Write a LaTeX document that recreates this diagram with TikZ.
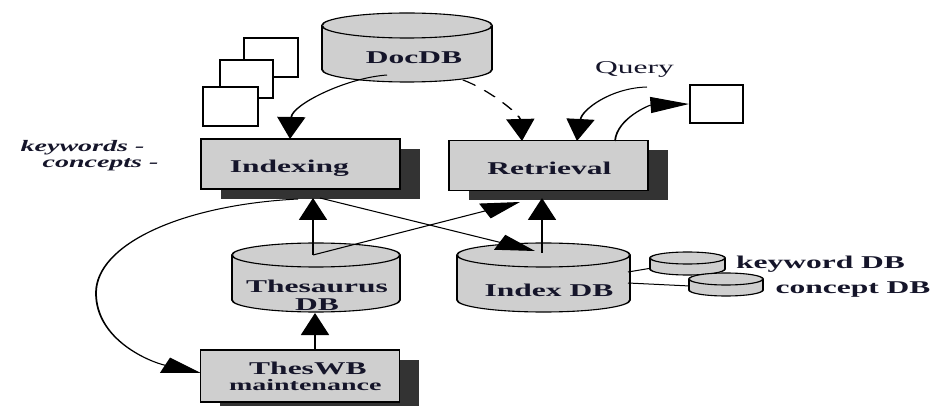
\documentclass[tikz,border=0pt]{standalone}
\usepackage{fontspec}
\setmainfont{Liberation Serif}
\usetikzlibrary{arrows.meta,shadows}
\definecolor{boxgray}{HTML}{CFCFCF}
\definecolor{shadowgray}{HTML}{333333}
\definecolor{txt}{HTML}{15152A}
\newcommand\cylshape[5]{%
 \filldraw[cyl] ({#1-#4},{#2+#5}) -- ({#1-#4},{#3-#5})
   .. controls ({#1-#4},{#3-#5+0.5523*#5}) and ({#1-0.5523*#4},{#3}) .. ({#1},{#3})
   .. controls ({#1+0.5523*#4},{#3}) and ({#1+#4},{#3-#5+0.5523*#5}) .. ({#1+#4},{#3-#5})
   -- ({#1+#4},{#2+#5})
   .. controls ({#1+#4},{#2+#5-0.5523*#5}) and ({#1+0.5523*#4},{#2}) .. ({#1},{#2})
   .. controls ({#1-0.5523*#4},{#2}) and ({#1-#4},{#2+#5-0.5523*#5}) .. cycle;
 \draw[cyl] ({#1-#4},{#2+#5})
   .. controls ({#1-#4},{#2+#5+0.5523*#5}) and ({#1-0.5523*#4},{#2+2*#5}) .. ({#1},{#2+2*#5})
   .. controls ({#1+0.5523*#4},{#2+2*#5}) and ({#1+#4},{#2+#5+0.5523*#5}) .. ({#1+#4},{#2+#5});
}
\tikzset{
  cyl/.style={line width=1.1pt, draw=black, fill=boxgray},
  box/.style={draw=black, line width=1.1pt, fill=boxgray, minimum width=113.7pt,
    minimum height=50pt, inner sep=0pt, text=txt,
    font=\fontsize{18}{18}\selectfont\bfseries,
    general shadow={fill=shadowgray, shadow xshift=11.4pt, shadow yshift=-10pt}},
  page/.style={draw=black, line width=1.1pt, fill=white},
  lbl/.style={inner sep=0pt, text=txt, font=\fontsize{18}{18}\selectfont\bfseries},
  qlbl/.style={inner sep=0pt, text=txt, font=\fontsize{18}{18}\selectfont},
  kwlbl/.style={inner sep=0pt, text=txt, font=\fontsize{16}{16}\selectfont\bfseries\itshape},
  conn/.style={line width=1pt, -{Triangle[length=22pt,width=16pt]}},
  plain/.style={line width=1pt}
}
\begin{document}
\begin{tikzpicture}[x=1pt,y=-1pt]
\useasboundingbox[fill=white] (0,0) rectangle (932,406);
\begin{scope}[transform canvas={xscale=1.75}, x=0.5714286pt, y=-1pt]
 % stacked documents
 \draw[page] (244,38) rectangle (298,77);
 \draw[page] (220,60) rectangle (273,98);
 \draw[page] (203,87) rectangle (258,126);
 % cylinders
 \cylshape{407}{13}{82}{85}{12.5}
 \cylshape{316}{243}{312}{84}{12}
 \cylshape{543.5}{243}{312}{86.5}{12}
 \draw[plain] (628,272) -- (652,268);
 \draw[plain] (628,283) -- (690,286);
 \cylshape{687.5}{252}{275}{37.5}{6}
 \cylshape{726}{273}{296}{37}{6}
 % boxes
 \node[box, text height=18pt, text depth=0pt] (indexing) at (300.5,164) {Indexing\hspace*{12.6pt}};
 \node[box, text height=18pt, text depth=0pt] (retrieval) at (548.5,165.5) {\hspace*{1pt}Retrieval};
 \node[box, minimum height=52pt, align=center, font=\fontsize{18}{16}\selectfont\bfseries] (theswb) at (300,376) {\hspace*{9pt}ThesWB\\{\fontsize{16}{16}\selectfont\hspace*{6pt}maintenance}};
 \node[page, minimum width=30.3pt, minimum height=38pt, inner sep=0pt] (outbox) at (716.5,104) {};
 % labels
 \node[lbl, anchor=base] (docdb) at (414,64) {DocDB};
 \node[lbl, align=center] (thesaurus) at (317,295) {Thesaurus\\DB};
 \node[lbl, anchor=base] (indexdb) at (549,296) {Index DB};
 \node[lbl, anchor=base] (keyworddb) at (820.5,269) {keyword DB};
 \node[lbl, anchor=base] (conceptdb) at (853,293) {concept DB};
 \node[qlbl, anchor=base] (query) at (634.5,74) {Query};
 \node[kwlbl, anchor=base] (keywords) at (82.5,152) {keywords -};
 \node[kwlbl, anchor=base] (concepts) at (100.5,168) {concepts -};
 % connector end points
 \coordinate (docdb-a) at (387,75);
 \coordinate (docdb-b) at (463,80);
 \coordinate (idx-top) at (290,139);
 \coordinate (ret-top1) at (522,141);
 \coordinate (ret-top2) at (577,141);
 \coordinate (ret-top3) at (615,141);
 \coordinate (query-start) at (647,87);
 \coordinate (out-in) at (outbox.west);
 \coordinate (idx-b1) at (298,199);
 \coordinate (idx-b2) at (313,198);
 \coordinate (idx-b3) at (320,198);
 \coordinate (ret-b1) at (520,202);
 \coordinate (ret-b2) at (542,198);
 \coordinate (thes-top) at (313,255);
 \coordinate (idxdb-top) at (542,253);
 \coordinate (idxdb-in) at (535,251);
 \coordinate (thes-bot) at (315,313);
 \coordinate (theswb-top) at (315,350);
 \coordinate (theswb-in) at (201,373);
 % connectors
 \draw[conn] (docdb-a) .. controls (345,78) and (292,105) .. (idx-top);
 \draw[conn, dash pattern=on 9pt off 7pt] (docdb-b) .. controls (490,90) and (520,115) .. (ret-top1);
 \draw[conn] (query-start) .. controls (610,88) and (582,110) .. (ret-top2);
 \draw[conn] (ret-top3) .. controls (617,118) and (650,105) .. (out-in);
 \draw[conn] (thes-top) -- (idx-b2);
 \draw[conn] (thes-top) -- (ret-b1);
 \draw[conn] (idxdb-top) -- (ret-b2);
 \draw[conn] (idx-b3) -- (idxdb-in);
 \draw[conn] (theswb-top) -- (thes-bot);
 \draw[conn] (idx-b1) .. controls (180,205) and (96,245) .. (96,293) .. controls (96,340) and (150,362) .. (theswb-in);
\end{scope}
\end{tikzpicture}
\end{document}
